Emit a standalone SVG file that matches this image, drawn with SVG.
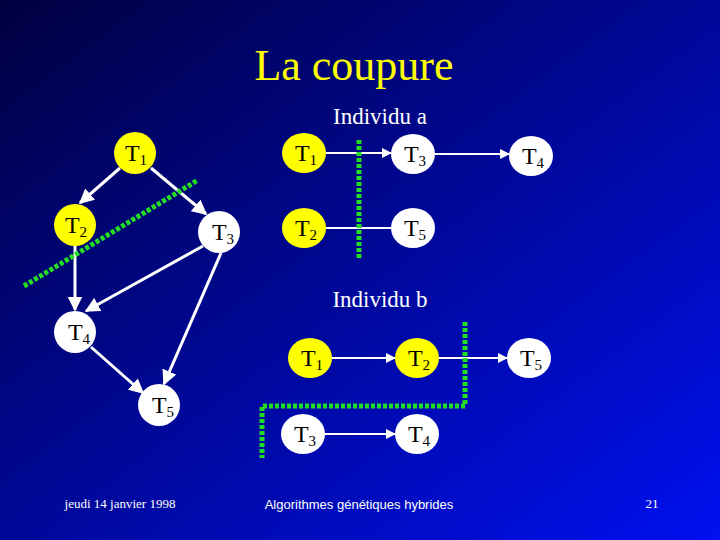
<svg xmlns="http://www.w3.org/2000/svg" width="720" height="540" viewBox="0 0 720 540">
<defs>
<linearGradient id="bg" x1="0" y1="0" x2="1" y2="1"><stop offset="0" stop-color="#000040"/><stop offset="1" stop-color="#0010f0"/></linearGradient>
<marker id="ar" viewBox="0 0 10 10" refX="9" refY="5" markerWidth="5" markerHeight="5" orient="auto"><path d="M0,0L10,5L0,10z" fill="#fff"/></marker>
<style>
.y{fill:#ffff00}.w{fill:#fff}
.t{font-family:"Liberation Serif",serif;font-size:24px;fill:#000;text-anchor:middle}
.s{font-size:15px}
.e{stroke:#fff;stroke-width:3;fill:none;marker-end:url(#ar)}
.h{stroke:#fff;stroke-width:2;fill:none}
.g{stroke:#22dd22;stroke-width:5;stroke-dasharray:4 2;fill:none}
.lab{font-family:"Liberation Serif",serif;font-size:23px;fill:#fff;text-anchor:middle}
</style>
</defs>
<rect width="720" height="540" fill="url(#bg)"/>
<text x="354" y="80" font-family="Liberation Serif,serif" font-size="44" fill="#ffff00" text-anchor="middle">La coupure</text>
<text class="lab" x="380" y="124">Individu a</text>
<text class="lab" x="380" y="307">Individu b</text>
<g id="connectors">
<path class="e" d="M120,168L80,203"/>
<path class="e" d="M151,168L206,214"/>
<path class="e" d="M75,246L75,310"/>
<path class="e" d="M203,246L86,311"/>
<path class="e" d="M221,253L164,384"/>
<path class="e" d="M91,347L143,393"/>
<path class="h" d="M326,153L391,153" marker-end="url(#ar)"/>
<path class="h" d="M435,154L509,154" marker-end="url(#ar)"/>
<path class="h" d="M326,228L391,228"/>
<path class="h" d="M331,358L395,358" marker-end="url(#ar)"/>
<path class="h" d="M439,358L507,358" marker-end="url(#ar)"/>
<path class="h" d="M325,434L395,434" marker-end="url(#ar)"/>
</g>
<g id="cuts">
<path class="g" d="M24,286L198,180"/>
<path class="g" d="M359,140L359,258"/>
<path class="g" d="M465,322L465,406L262,406L262,458"/>
</g>
<g id="L1"><circle class="y" cx="135" cy="153" r="21"/><text class="t" x="136" y="161">T<tspan class="s" dy="4">1</tspan></text></g>
<g id="L2"><circle class="y" cx="75" cy="225" r="21"/><text class="t" x="76" y="233">T<tspan class="s" dy="4">2</tspan></text></g>
<g id="L3"><circle class="w" cx="219" cy="232" r="21"/><text class="t" x="223" y="240">T<tspan class="s" dy="4">3</tspan></text></g>
<g id="L4"><circle class="w" cx="75" cy="332" r="21"/><text class="t" x="79" y="340">T<tspan class="s" dy="4">4</tspan></text></g>
<g id="L5"><circle class="w" cx="159" cy="405" r="21"/><text class="t" x="163" y="413">T<tspan class="s" dy="4">5</tspan></text></g>
<g id="A1"><ellipse class="y" cx="304" cy="153" rx="22" ry="20"/><text class="t" x="306" y="161">T<tspan class="s" dy="4">1</tspan></text></g>
<g id="A3"><ellipse class="w" cx="413" cy="154" rx="22" ry="20"/><text class="t" x="415" y="162">T<tspan class="s" dy="4">3</tspan></text></g>
<g id="A4"><ellipse class="w" cx="531" cy="156" rx="22" ry="20"/><text class="t" x="533" y="164">T<tspan class="s" dy="4">4</tspan></text></g>
<g id="A2"><ellipse class="y" cx="304" cy="228" rx="22" ry="20"/><text class="t" x="306" y="236">T<tspan class="s" dy="4">2</tspan></text></g>
<g id="A5"><ellipse class="w" cx="413" cy="228" rx="22" ry="20"/><text class="t" x="415" y="236">T<tspan class="s" dy="4">5</tspan></text></g>
<g id="B1"><ellipse class="y" cx="310" cy="358" rx="22" ry="20"/><text class="t" x="312" y="366">T<tspan class="s" dy="4">1</tspan></text></g>
<g id="B2"><ellipse class="y" cx="417" cy="358" rx="22" ry="20"/><text class="t" x="419" y="366">T<tspan class="s" dy="4">2</tspan></text></g>
<g id="B5"><ellipse class="w" cx="529" cy="358" rx="22" ry="20"/><text class="t" x="531" y="366">T<tspan class="s" dy="4">5</tspan></text></g>
<g id="B3"><ellipse class="w" cx="303" cy="434" rx="22" ry="20"/><text class="t" x="305" y="442">T<tspan class="s" dy="4">3</tspan></text></g>
<g id="B4"><ellipse class="w" cx="417" cy="434" rx="22" ry="20"/><text class="t" x="419" y="442">T<tspan class="s" dy="4">4</tspan></text></g>
<text x="120" y="508" font-family="Liberation Serif,serif" font-size="13" fill="#fff" text-anchor="middle">jeudi 14 janvier 1998</text>
<text x="359" y="509" font-family="Liberation Sans,sans-serif" font-size="13" fill="#fff" text-anchor="middle">Algorithmes génétiques hybrides</text>
<text x="652" y="508" font-family="Liberation Serif,serif" font-size="13" fill="#fff" text-anchor="middle">21</text>
</svg>
